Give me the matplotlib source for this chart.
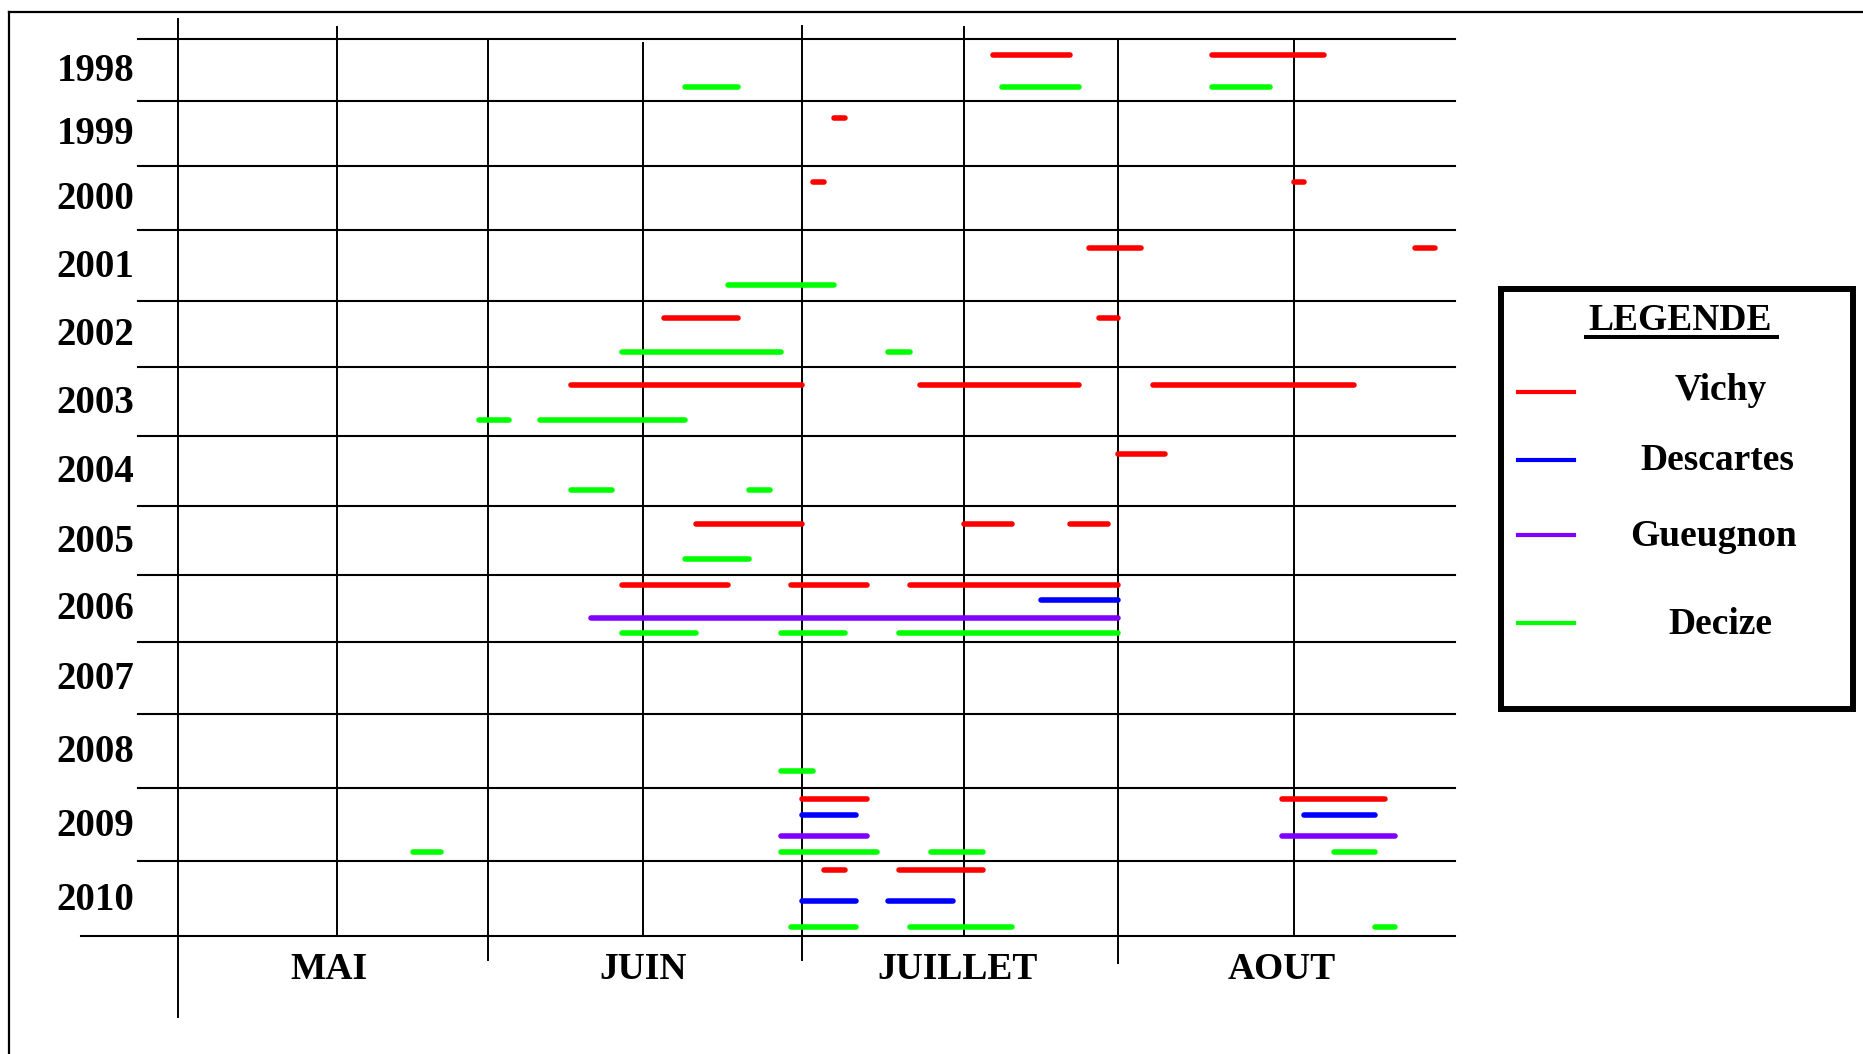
import numpy as np
import matplotlib.pyplot as plt
from matplotlib.lines import Line2D
from matplotlib.patches import Rectangle
from matplotlib.transforms import ScaledTranslation

plt.rcParams['font.family'] = ['Liberation Serif', 'DejaVu Serif']
plt.rcParams['font.weight'] = 'bold'

YEARS = list(range(1998, 2011))
MONTHS = ['MAI', 'JUIN', 'JUILLET', 'AOUT']
SERIES = ['Vichy', 'Descartes', 'Gueugnon', 'Decize']
COLORS = ['#ff0000', '#0000ff', '#8000ff', '#00ff00']

# periods per site: (year, first day, last day), days as MM-DD
vichy = [
    (1998, '07-19', '07-27'), (1998, '08-09', '08-19'),
    (1999, '07-04', '07-05'),
    (2000, '07-02', '07-03'), (2000, '08-16', '08-17'),
    (2001, '07-29', '08-03'), (2001, '08-28', '08-30'),
    (2002, '06-18', '06-25'), (2002, '07-30', '08-01'),
    (2003, '06-09', '07-01'), (2003, '07-12', '07-28'), (2003, '08-04', '08-22'),
    (2004, '08-01', '08-05'),
    (2005, '06-21', '07-01'), (2005, '07-16', '07-21'), (2005, '07-27', '07-31'),
    (2006, '06-14', '06-24'), (2006, '06-30', '07-07'), (2006, '07-11', '08-01'),
    (2009, '07-01', '07-07'), (2009, '08-15', '08-25'),
    (2010, '07-03', '07-05'), (2010, '07-10', '07-18'),
]
descartes = [
    (2006, '07-24', '08-01'),
    (2009, '07-01', '07-06'), (2009, '08-17', '08-24'),
    (2010, '07-01', '07-06'), (2010, '07-09', '07-15'),
]
gueugnon = [
    (2006, '06-11', '08-01'),
    (2009, '06-29', '07-07'), (2009, '08-15', '08-26'),
]
decize = [
    (1998, '06-20', '06-25'), (1998, '07-20', '07-28'), (1998, '08-09', '08-14'),
    (2001, '06-24', '07-04'),
    (2002, '06-14', '06-29'), (2002, '07-09', '07-11'),
    (2003, '05-31', '06-03'), (2003, '06-06', '06-20'),
    (2004, '06-09', '06-13'), (2004, '06-26', '06-28'),
    (2005, '06-20', '06-26'),
    (2006, '06-14', '06-21'), (2006, '06-29', '07-05'), (2006, '07-10', '08-01'),
    (2008, '06-29', '07-02'),
    (2009, '05-24', '05-27'), (2009, '06-29', '07-08'), (2009, '07-13', '07-18'),
    (2009, '08-20', '08-24'),
    (2010, '06-30', '07-06'), (2010, '07-11', '07-21'), (2010, '08-24', '08-26'),
]
PERIODS = [vichy, descartes, gueugnon, decize]

GRID_DATES = ['05-01', '05-16', '06-01', '06-16', '07-01', '07-16', '08-01', '08-16', '09-01']


def day(s):
    # days since 1 May (non leap year)
    return float((np.datetime64('2001-' + s) - np.datetime64('2001-05-01')).astype(int))


# hand drawn grid: column / row edges in the 1568x887 drawing
REF_W, REF_H = 1568.0, 887.0
COL_EDGES = [150, 284, 411, 541, 675, 811, 941, 1089, 1225]
ROW_EDGES = [33, 85, 139.5, 193.5, 253.5, 309, 367, 426, 484, 540, 601, 663.5, 725, 787.5]
# vertical line spans (axes fraction) for each grid line
VSPAN = [(-0.091, 1.023), (0, 1.014), (-0.027, 1.0), (0, 0.996),
         (-0.027, 1.015), (0, 1.014), (-0.030, 1.0), (0, 1.0)]
MONTH_LABEL_X = [14.2, 46.0, 75.4, 106.0]   # label centres, days since 1 May
# lanes inside a year row
LANES_2 = {'Vichy': 0.26, 'Decize': 0.77}
LANES_3 = {'Vichy': 0.11, 'Descartes': 0.53, 'Decize': 0.88}
LANES_4 = {'Vichy': 0.15, 'Descartes': 0.37, 'Gueugnon': 0.65, 'Decize': 0.87}

grid_days = [day(d) for d in GRID_DATES]
row_years = YEARS + [YEARS[-1] + 1]

fig = plt.figure(figsize=(18.63, 10.54), dpi=100)
ax = fig.add_axes([COL_EDGES[0] / REF_W, 1 - ROW_EDGES[-1] / REF_H,
                   (COL_EDGES[-1] - COL_EDGES[0]) / REF_W,
                   (ROW_EDGES[-1] - ROW_EDGES[0]) / REF_H])
ax.set_xscale('function', functions=(lambda x: np.interp(x, grid_days, COL_EDGES),
                                     lambda v: np.interp(v, COL_EDGES, grid_days)))
ax.set_yscale('function', functions=(lambda y: np.interp(y, row_years, ROW_EDGES),
                                     lambda v: np.interp(v, ROW_EDGES, row_years)))
ax.set_xlim(grid_days[0], grid_days[-1])
ax.set_ylim(row_years[-1], row_years[0])
ax.axis('off')

# grid
for i, y in enumerate(row_years):
    x0 = -0.0763 if i == len(row_years) - 1 else -0.0316
    ax.plot([x0, 1], [y, y], color='black', lw=1.5, transform=ax.get_yaxis_transform(),
            clip_on=False)
for d, (y0, y1) in zip(grid_days[:-1], VSPAN):
    ax.plot([d, d], [y0, y1], color='black', lw=1.4, transform=ax.get_xaxis_transform(),
            clip_on=False)

# periods
desc_years = {p[0] for p in descartes}
gueu_years = {p[0] for p in gueugnon}
for name, color, periods in zip(SERIES, COLORS, PERIODS):
    for year, start, end in periods:
        if year in gueu_years:
            lanes = LANES_4
        elif year in desc_years:
            lanes = LANES_3
        else:
            lanes = LANES_2
        y = year + lanes[name]
        ax.plot([day(start), day(end)], [y, y], color=color, lw=4,
                solid_capstyle='round', zorder=3)

# labels
lift = ScaledTranslation(0, 3 / 100, fig.dpi_scale_trans)
for year in YEARS:
    ax.text(-0.0647, year + 0.5, str(year), transform=ax.get_yaxis_transform() + lift,
            ha='center', va='center_baseline', fontsize=28)
for m, x in zip(MONTHS, MONTH_LABEL_X):
    ax.text(x, -0.0477, m, transform=ax.get_xaxis_transform(),
            ha='center', va='baseline', fontsize=27)

# outer frame (top and left)
fig.add_artist(Line2D([0.00483, 1], [0.98895, 0.98895], color='black', lw=1.6))
fig.add_artist(Line2D([0.00483, 0.00483], [0, 0.98895], color='black', lw=1.6))

# legend box
fig.add_artist(Rectangle((0.80553, 0.32761), 0.18910, 0.39820, fill=False,
                         edgecolor='black', lw=4.3, transform=fig.transFigure))
fig.text(0.9016, 0.6869, 'LEGENDE', ha='center', va='baseline', fontsize=27)
fig.add_artist(Line2D([0.8513, 0.9540], [0.6800, 0.6800], color='black', lw=2.9))
leg_line_y = [0.6284, 0.5636, 0.4924, 0.4086]
leg_text_y = [0.6205, 0.5541, 0.4820, 0.3985]
leg_text_x = [0.9237, 0.9219, 0.9197, 0.9232]
for name, color, ly, ty, tx in zip(SERIES, COLORS, leg_line_y, leg_text_y, leg_text_x):
    fig.add_artist(Line2D([0.8147, 0.8449], [ly, ly], color=color, lw=3))
    fig.text(tx, ty, name, ha='center', va='baseline', fontsize=27)

fig.savefig('out.png', dpi=100)
